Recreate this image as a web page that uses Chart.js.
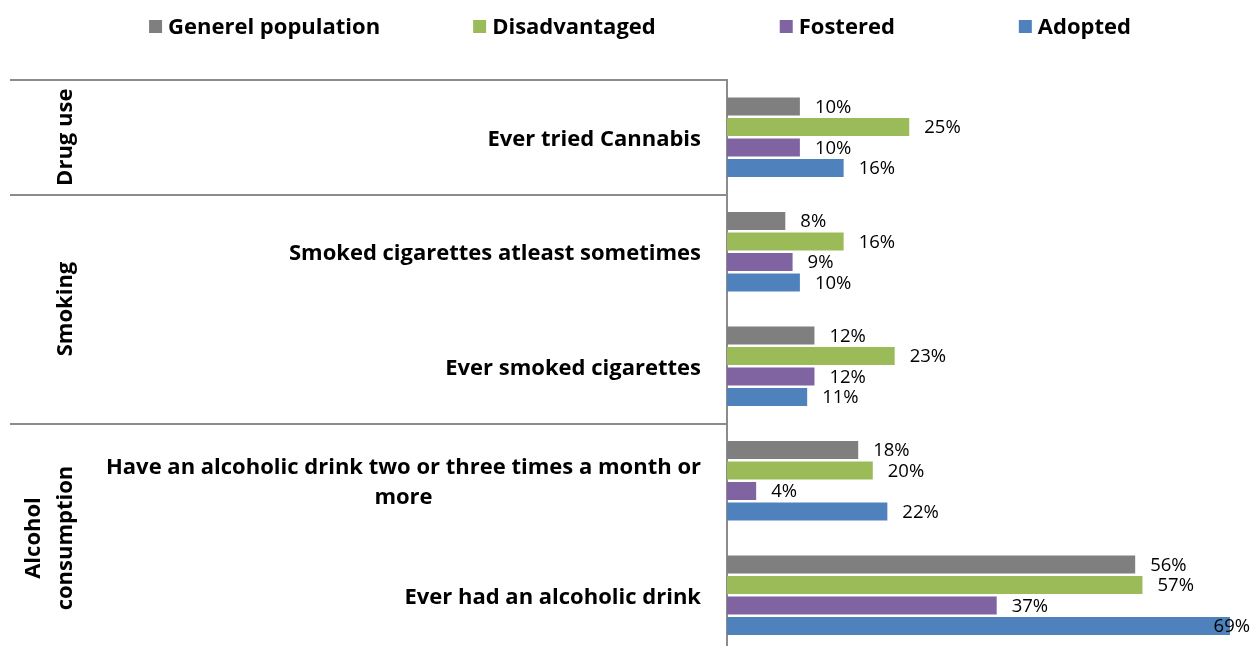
<!DOCTYPE html>
<html><head><meta charset="utf-8">
<script src="https://cdn.jsdelivr.net/npm/chart.js@4.4.0/dist/chart.umd.min.js"></script>
<style>html,body{margin:0;padding:0;background:#fff;overflow:hidden}#wrap{width:1254px;height:660px;position:relative}</style>
</head><body><div id="wrap"><canvas id="c"></canvas></div>
<script>
const categories = [
  ["Ever tried Cannabis"],
  ["Smoked cigarettes atleast sometimes"],
  ["Ever smoked cigarettes"],
  ["Have an alcoholic drink two or three times a month or", "more"],
  ["Ever had an alcoholic drink"]
];
const groupNames = [["Drug use"], ["Smoking"], ["Alcohol", "consumption"]];
const groupSizes = [1, 2, 2];
const seriesNames = ["Generel population", "Disadvantaged", "Fostered", "Adopted"];
const generalPopulation = [10, 8, 12, 18, 56];
const disadvantaged = [25, 16, 23, 20, 57];
const fostered = [10, 9, 12, 4, 37];
const adopted = [16, 10, 11, 22, 69];
const seriesColors = ["#7f7f7f", "#9bbb59", "#8064a2", "#4f81bd"];

const FONT = "'Open Sans', 'DejaVu Sans', sans-serif";
const seriesValues = [generalPopulation, disadvantaged, fostered, adopted];

const overlay = {
  id: 'overlay',
  afterDraw(chart) {
    const ctx = chart.ctx, area = chart.chartArea, ys = chart.scales.y;
    ctx.save();
    // category labels
    ctx.fillStyle = '#000';
    ctx.font = 'bold 22px ' + FONT;
    ctx.textBaseline = 'middle';
    const rightX = area.left - 26;
    categories.forEach((lines, i) => {
      const cy = ys.getPixelForValue(i) + 2;
      const n = lines.length, lh = 30;
      const widest = Math.max(...lines.map(l => ctx.measureText(l).width));
      lines.forEach((l, k) => {
        const yy = cy + (k - (n - 1) / 2) * lh;
        if (n === 1) { ctx.textAlign = 'right'; ctx.fillText(l, rightX, yy); }
        else { ctx.textAlign = 'center'; ctx.fillText(l, rightX - widest / 2, yy); }
      });
    });
    // separators and group labels
    let start = 0;
    ctx.strokeStyle = '#8c8c8c';
    ctx.lineWidth = 2;
    groupSizes.forEach((size, g) => {
      const top = start === 0 ? area.top : (ys.getPixelForValue(start - 1) + ys.getPixelForValue(start)) / 2;
      const end = start + size;
      const bottom = end >= categories.length ? area.bottom : (ys.getPixelForValue(end - 1) + ys.getPixelForValue(end)) / 2;
      ctx.beginPath();
      ctx.moveTo(10, Math.round(top));
      ctx.lineTo(area.left, Math.round(top));
      ctx.stroke();
      const lines = groupNames[g];
      const cy = (top + bottom) / 2;
      ctx.font = 'bold 22px ' + FONT;
      ctx.textAlign = 'center';
      ctx.textBaseline = 'alphabetic';
      lines.forEach((l, k) => {
        const bx = 72 - 32 * (lines.length - 1 - k);
        ctx.save();
        ctx.translate(bx, cy);
        ctx.rotate(-Math.PI / 2);
        ctx.fillText(l, 0, 0);
        ctx.restore();
      });
      start = end;
    });
    // data labels
    ctx.font = '18.5px ' + FONT;
    ctx.textAlign = 'left';
    ctx.textBaseline = 'middle';
    ctx.fillStyle = '#000';
    chart.data.datasets.forEach((ds, di) => {
      const meta = chart.getDatasetMeta(di);
      meta.data.forEach((el, i) => {
        const t = ds.data[i] + '%';
        const w = ctx.measureText(t).width;
        const tx = Math.min(el.x + 15, chart.width - 4 - w);
        ctx.fillText(t, tx, el.y + 1);
      });
    });
    // legend
    ctx.font = 'bold 22px ' + FONT;
    const box = 13, tg = 6, gaps = [93, 124, 124];
    const widths = seriesNames.map(n => box + tg + ctx.measureText(n).width);
    const total = widths.reduce((a, b) => a + b, 0) + gaps.reduce((a, b) => a + b, 0);
    let x = (chart.width + 26) / 2 - total / 2;
    const ly = 28;
    seriesNames.forEach((n, i) => {
      ctx.fillStyle = seriesColors[i];
      ctx.fillRect(x, ly - 8, box, box);
      ctx.fillStyle = '#000';
      ctx.textAlign = 'left';
      ctx.fillText(n, x + box + tg, ly);
      x += widths[i] + (gaps[i] || 0);
    });
    ctx.restore();
  }
};

new Chart(document.getElementById('c'), {
  type: 'bar',
  data: {
    labels: categories,
    datasets: seriesNames.map((n, i) => ({
      label: n,
      data: seriesValues[i],
      backgroundColor: seriesColors[i],
      borderWidth: 0,
      barPercentage: 0.88,
      categoryPercentage: 0.716
    }))
  },
  options: {
    indexAxis: 'y',
    responsive: true,
    maintainAspectRatio: false,
    animation: false,
    layout: { padding: { top: 80, bottom: 7.5, left: 0, right: 0 } },
    plugins: { legend: { display: false }, tooltip: { enabled: false } },
    scales: {
      x: { type: 'linear', min: 0, max: 72.3, display: false },
      y: {
        type: 'category',
        grid: { display: false },
        ticks: { display: false },
        border: { display: true, color: '#8c8c8c', width: 2 },
        afterFit(s) { s.width = 727; }
      }
    }
  },
  plugins: [overlay]
});
</script>
</body></html>
